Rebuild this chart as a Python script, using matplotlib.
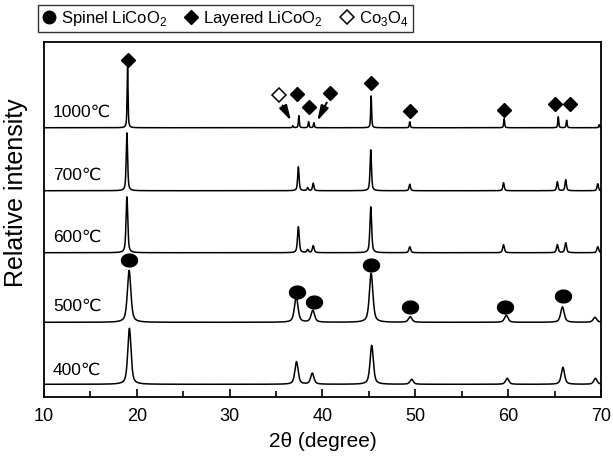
import numpy as np
import matplotlib
matplotlib.use('Agg')
import matplotlib.pyplot as plt
from matplotlib.lines import Line2D
from matplotlib.ticker import MultipleLocator

plt.rcParams['font.family'] = ['Liberation Sans', 'DejaVu Sans']
plt.rcParams['mathtext.fontset'] = 'custom'
plt.rcParams['mathtext.rm'] = 'Liberation Sans'

# samples, bottom to top, with baseline offsets (arbitrary units)
samples = ['400℃', '500℃', '600℃', '700℃', '1000℃']
offsets = [12.7, 74.7, 144.3, 206.3, 269.3]
label_y = [27, 91, 160, 222, 285]

# peak tables: position (2theta), height, one FWHM per sample
pos_400 = [19.2, 37.2, 38.9, 45.3, 49.6, 59.9, 65.9, 69.4]
h_400 = [56, 22.6, 11, 39, 5, 6, 17, 6]
pos_500 = [19.17, 37.17, 38.96, 45.24, 49.45, 59.8, 65.85, 69.35]
h_500 = [52, 26, 12, 49, 5.5, 7, 15.5, 5]
pos_600 = [18.93, 37.4, 38.4, 39.0, 45.2, 49.4, 59.5, 65.3, 66.2, 69.65]
h_600 = [56, 26, 3, 7, 46, 6, 8, 8, 10, 6]
pos_700 = [18.93, 37.4, 38.4, 39.0, 45.2, 49.4, 59.5, 65.3, 66.2, 69.65]
h_700 = [58, 24, 3, 7.5, 41, 6.5, 8, 9, 11, 7]
pos_1000 = [19.0, 36.8, 37.45, 38.5, 39.07, 45.24, 49.4, 59.57, 65.4, 66.3, 69.8]
h_1000 = [60, 2, 12, 6, 5, 32, 6, 9, 11, 7.5, 3]
fwhm = [0.42, 0.45, 0.22, 0.18, 0.12]

# phase markers
layered_x = [19.0, 37.2, 38.5, 40.8, 45.2, 49.4, 59.5, 65.1, 66.7]
layered_y = [337, 302.7, 289.7, 303.7, 313.7, 286, 287, 292.7, 292.7]
co3o4_x = [35.3]
co3o4_y = [302]
spinel_x = [19.2, 37.3, 39.1, 45.27, 49.46, 59.7, 65.9]
spinel_y = [137, 105.3, 94.7, 132, 90.3, 90.3, 101]


def pattern(x, pos, h, w):
    y = np.zeros_like(x)
    for p, a in zip(pos, h):
        d = (x - p) / (w / 2)
        lor = 1 / (1 + d**2)
        gau = np.exp(-np.log(2) * d**2)
        y += a * (0.6 * lor + 0.4 * gau)
    return y


x = np.linspace(10, 70, 4001)
tables = [(pos_400, h_400), (pos_500, h_500), (pos_600, h_600),
          (pos_700, h_700), (pos_1000, h_1000)]

fig = plt.figure(figsize=(6.13, 4.57), dpi=100)
ax = fig.add_axes([0.0718, 0.1313, 0.9086, 0.7767])

for (pos, h), off, w, name, ly in zip(tables, offsets, fwhm, samples, label_y):
    ax.plot(x, off + pattern(x, pos, h, w), color='black', lw=1.1)
    ax.text(10.97, ly, name, fontsize=12.5, va='center', ha='left')

# ellipse-ish marker for spinel
t = np.linspace(0, 2 * np.pi, 60)
ell = np.column_stack([np.cos(t), 0.8 * np.sin(t)])

ax.plot(layered_x, layered_y, 'D', color='black', ms=7.5, ls='none')
ax.plot(co3o4_x, co3o4_y, 'D', mfc='white', mec='black', mew=1.1, ms=7.5, ls='none')
ax.plot(spinel_x, spinel_y, marker=ell, color='black', ms=11.5, ls='none')

arrow = dict(arrowstyle='-|>,head_length=0.9,head_width=0.25', color='black', lw=1.4)
ax.annotate('', xy=(36.75, 274), xytext=(35.55, 294), arrowprops=arrow)
ax.annotate('', xy=(39.3, 273.7), xytext=(40.6, 297), arrowprops=arrow)

ax.set_xlim(10, 70)
ax.set_ylim(0, 355)
ax.set_yticks([])
ax.xaxis.set_major_locator(MultipleLocator(10))
ax.xaxis.set_minor_locator(MultipleLocator(5))
ax.tick_params(axis='x', which='major', direction='in', length=6, width=1.2, labelsize=13, pad=8)
ax.tick_params(axis='x', which='minor', direction='in', length=4, width=1.2)
for s in ax.spines.values():
    s.set_linewidth(1.3)

ax.set_xlabel('2θ (degree)', fontsize=15, labelpad=5)
ax.set_ylabel('Relative intensity', fontsize=18)
ax.yaxis.set_label_coords(-0.028, 0.577)

handles = [
    Line2D([], [], marker='o', color='black', ms=9, ls='none'),
    Line2D([], [], marker='D', color='black', ms=7.5, ls='none'),
    Line2D([], [], marker='D', mfc='white', mec='black', mew=1.1, ms=7.5, ls='none'),
]
labels = ['Spinel LiCoO$_2$', 'Layered LiCoO$_2$', 'Co$_3$O$_4$']
leg = fig.legend(handles, labels, loc='upper left', bbox_to_anchor=(0.062, 0.989),
                 ncol=3, fontsize=12, frameon=True, fancybox=False, edgecolor='black',
                 borderaxespad=0, borderpad=0.25, handlelength=0.8, handletextpad=0.35,
                 columnspacing=1.0)
leg.get_frame().set_linewidth(1.0)

fig.savefig('out.png', dpi=100)
